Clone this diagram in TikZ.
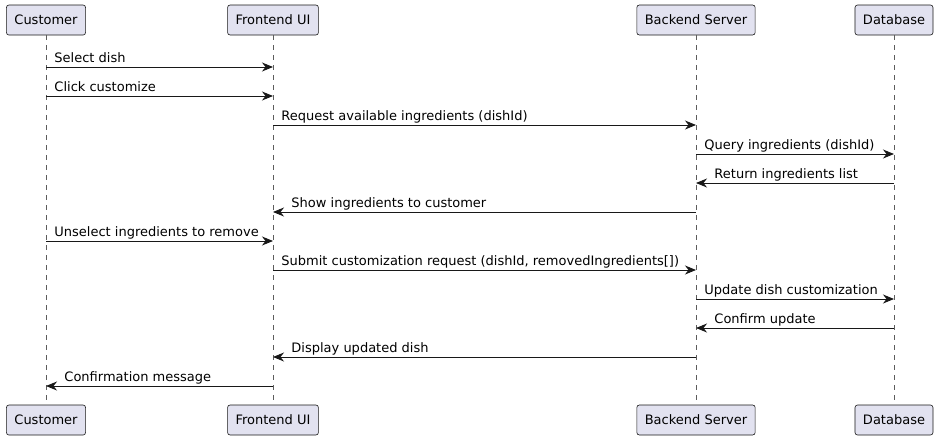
\documentclass[tikz,border=0pt]{standalone}
\usepackage{fontspec}
\setmainfont{DejaVu Sans}
\usepackage{xcolor}
\usetikzlibrary{arrows.meta}
\definecolor{partfill}{HTML}{E2E2F0}
\definecolor{umlline}{HTML}{181818}
\tikzset{
    party/.style={draw=umlline, line width=0.6pt, fill=partfill, rounded corners=2.5pt,
        minimum height=30pt, inner xsep=8pt, font=\fontsize{13}{15}\selectfont},
    lifeline/.style={draw=umlline!70, line width=0.5pt, dash pattern=on 5pt off 5pt},
    msg/.style={draw=umlline, line width=0.9pt, -{Stealth[length=11pt, width=9pt, inset=3.5pt]}},
    fwdlabel/.style={anchor=base west, pos=0, xshift=8pt, yshift=5pt, inner sep=0pt,
        font=\fontsize{13}{15}\selectfont},
    backlabel/.style={anchor=base west, pos=1, xshift=18pt, yshift=5pt, inner sep=0pt,
        font=\fontsize{13}{15}\selectfont}
}
\begin{document}
\begin{tikzpicture}[x=1pt, y=-1pt]
    \useasboundingbox (0,0) rectangle (940,440);
    % participants, top and bottom
    \node[party] (customer) at (46,20) {Customer};
    \node[party] (frontend) at (273,20) {Frontend UI};
    \node[party] (backend) at (696,20) {Backend Server};
    \node[party] (database) at (894,20) {Database};
    \node[party] (customerB) at (46,420) {Customer};
    \node[party] (frontendB) at (273,420) {Frontend UI};
    \node[party] (backendB) at (696,420) {Backend Server};
    \node[party] (databaseB) at (894,420) {Database};
    % lifelines
    \foreach \p in {customer, frontend, backend, database}
        \draw[lifeline] (\p.south) -- (\p B.north);
    % messages
    \draw[msg] (customer |- {0,67}) -- (frontend |- {0,67}) node[fwdlabel] {Select dish};
    \draw[msg] (customer |- {0,96}) -- (frontend |- {0,96}) node[fwdlabel] {Click customize};
    \draw[msg] (frontend |- {0,125}) -- (backend |- {0,125}) node[fwdlabel] {Request available ingredients (dishId)};
    \draw[msg] (backend |- {0,154}) -- (database |- {0,154}) node[fwdlabel] {Query ingredients (dishId)};
    \draw[msg] (database |- {0,183}) -- (backend |- {0,183}) node[backlabel] {Return ingredients list};
    \draw[msg] (backend |- {0,212}) -- (frontend |- {0,212}) node[backlabel] {Show ingredients to customer};
    \draw[msg] (customer |- {0,241}) -- (frontend |- {0,241}) node[fwdlabel] {Unselect ingredients to remove};
    \draw[msg] (frontend |- {0,270}) -- (backend |- {0,270}) node[fwdlabel] {Submit customization request (dishId, removedIngredients[])};
    \draw[msg] (backend |- {0,299}) -- (database |- {0,299}) node[fwdlabel] {Update dish customization};
    \draw[msg] (database |- {0,328}) -- (backend |- {0,328}) node[backlabel] {Confirm update};
    \draw[msg] (backend |- {0,357}) -- (frontend |- {0,357}) node[backlabel] {Display updated dish};
    \draw[msg] (frontend |- {0,386}) -- (customer |- {0,386}) node[backlabel] {Confirmation message};
\end{tikzpicture}
\end{document}
